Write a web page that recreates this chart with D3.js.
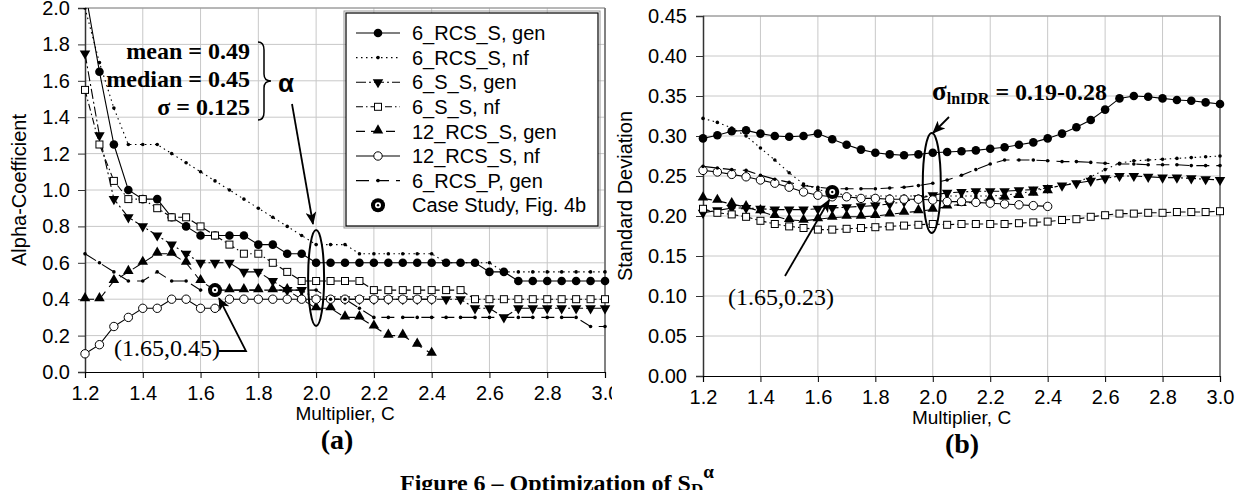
<!DOCTYPE html>
<html>
<head>
<meta charset="utf-8">
<script src="https://cdn.jsdelivr.net/npm/d3@7"></script>
<style>
body { margin: 0; background: #fff; }
svg text { font-family: "Liberation Sans", Arial, sans-serif; fill: #000; }
.serif { font-family: "Liberation Serif", "Times New Roman", serif; }
</style>
</head>
<body>
<svg id="fig" width="1247" height="490"></svg>
<script>
// multiplier C values (x)
const cVals = [1.20,1.25,1.30,1.35,1.40,1.45,1.50,1.55,1.60,1.65,1.70,1.75,1.80,1.85,1.90,1.95,
               2.00,2.05,2.10,2.15,2.20,2.25,2.30,2.35,2.40,2.45,2.50,2.55,2.60,2.65,2.70,2.75,
               2.80,2.85,2.90,2.95,3.00];
const xTicks = [1.2,1.4,1.6,1.8,2.0,2.2,2.4,2.6,2.8,3.0];
const alphaTicks = [0,0.2,0.4,0.6,0.8,1.0,1.2,1.4,1.6,1.8,2.0];
const sdTicks = [0,0.05,0.10,0.15,0.20,0.25,0.30,0.35,0.40,0.45];

const seriesNames = ["6_RCS_S, gen","6_RCS_S, nf","6_S_S, gen","6_S_S, nf","12_RCS_S, gen","12_RCS_S, nf","6_RCS_P, gen"];
const caseName = "Case Study, Fig. 4b";
const caseA = [1.65, 0.45];
const caseB = [1.65, 0.23];

// (a) alpha-coefficient
const alpha_6RCSS_gen = [2.1,1.65,1.25,1.0,0.95,0.95,0.85,0.8,0.75,0.75,0.75,0.75,0.7,0.7,0.65,0.65,
  0.6,0.6,0.6,0.6,0.6,0.6,0.6,0.6,0.6,0.6,0.6,0.6,0.55,0.55,0.5,0.5,0.5,0.5,0.5,0.5,0.5];
const alpha_6RCSS_nf = [2.0,1.7,1.45,1.25,1.25,1.25,1.2,1.15,1.1,1.05,1.0,0.95,0.9,0.85,0.8,0.75,
  0.7,0.7,0.7,0.65,0.65,0.65,0.65,0.65,0.65,0.6,0.6,0.6,0.6,0.55,0.55,0.55,0.55,0.55,0.55,0.55,0.55];
const alpha_6SS_gen = [1.75,1.3,0.95,0.85,0.8,0.75,0.7,0.65,0.6,0.6,0.6,0.55,0.55,0.5,0.45,0.45,
  0.4,0.4,0.4,0.4,0.4,0.4,0.4,0.4,0.4,0.4,0.4,0.35,0.35,0.3,0.35,0.35,0.35,0.35,0.35,0.35,0.35];
const alpha_6SS_nf = [1.55,1.25,1.05,0.95,0.95,0.9,0.85,0.85,0.8,0.75,0.7,0.65,0.65,0.6,0.55,0.5,
  0.5,0.5,0.5,0.5,0.45,0.45,0.45,0.45,0.45,0.45,0.45,0.4,0.4,0.4,0.4,0.4,0.4,0.4,0.4,0.4,0.4];
const alpha_12RCSS_gen = [0.4,0.4,0.5,0.55,0.6,0.65,0.65,0.6,0.5,0.45,0.45,0.45,0.45,0.45,0.45,0.4,
  0.35,0.35,0.3,0.3,0.25,0.2,0.2,0.15,0.1,null,null,null,null,null,null,null,null,null,null,null,null];
const alpha_12RCSS_nf = [0.1,0.15,0.25,0.3,0.35,0.35,0.4,0.4,0.35,0.35,0.4,0.4,0.4,0.4,0.4,0.4,
  0.4,0.4,0.4,0.4,0.4,0.4,0.4,0.4,0.4,null,null,null,null,null,null,null,null,null,null,null,null];
const alpha_6RCSP_gen = [0.65,0.6,0.55,0.5,0.5,0.55,0.5,0.5,0.45,0.45,0.45,0.45,0.45,0.45,0.45,0.45,
  0.45,0.4,0.4,0.35,0.3,0.3,0.3,0.3,0.3,0.3,0.3,0.3,0.3,0.3,0.3,0.3,0.3,0.3,0.3,0.25,0.25];

// (b) standard deviation
const sd_6RCSS_gen = [0.297,0.301,0.306,0.307,0.303,0.300,0.299,0.300,0.303,0.296,0.289,0.283,0.279,0.277,0.276,0.277,
  0.279,0.280,0.281,0.282,0.284,0.286,0.289,0.292,0.297,0.303,0.311,0.320,0.333,0.347,0.350,0.349,0.347,0.345,0.344,0.342,0.340];
const sd_6RCSS_nf = [0.322,0.317,0.310,0.300,0.285,0.270,0.254,0.240,0.233,0.229,0.226,0.225,0.225,0.225,0.225,0.225,
  0.225,0.225,0.225,0.225,0.225,0.226,0.228,0.231,0.235,0.238,0.242,0.249,0.258,0.266,0.269,0.270,0.271,0.272,0.273,0.274,0.275];
const sd_6SS_gen = [0.204,0.207,0.210,0.210,0.209,0.208,0.208,0.208,0.209,0.210,0.211,0.212,0.213,0.215,0.218,0.222,
  0.226,0.229,0.230,0.231,0.231,0.231,0.232,0.233,0.235,0.238,0.241,0.244,0.247,0.250,0.250,0.249,0.248,0.248,0.247,0.246,0.245];
const sd_6SS_nf = [0.209,0.204,0.202,0.199,0.194,0.190,0.187,0.185,0.183,0.183,0.184,0.185,0.186,0.187,0.188,0.189,
  0.190,0.189,0.190,0.190,0.190,0.190,0.191,0.192,0.193,0.195,0.196,0.199,0.201,0.203,0.203,0.204,0.204,0.205,0.205,0.205,0.206];
const sd_12RCSS_gen = [0.222,0.219,0.215,0.211,0.206,0.200,0.195,0.194,0.196,0.198,0.199,0.199,0.200,0.202,0.204,0.206,
  0.208,0.212,0.215,0.218,0.221,0.223,0.225,0.228,0.231,null,null,null,null,null,null,null,null,null,null,null,null];
const sd_12RCSS_nf = [0.257,0.255,0.252,0.249,0.245,0.241,0.236,0.230,0.226,0.224,0.224,0.222,0.222,0.221,0.221,0.221,
  0.220,0.218,0.218,0.217,0.216,0.215,0.214,0.213,0.212,null,null,null,null,null,null,null,null,null,null,null,null];
const sd_6RCSP_gen = [0.262,0.260,0.258,0.257,0.251,0.246,0.242,0.238,0.236,0.234,0.234,0.234,0.234,0.235,0.236,0.238,
  0.241,0.245,0.251,0.258,0.265,0.270,0.270,0.270,0.269,0.268,0.268,0.267,0.266,0.265,0.265,0.264,0.264,0.264,0.263,0.263,0.263];

const alphaSeries = [alpha_6RCSS_gen, alpha_6RCSS_nf, alpha_6SS_gen, alpha_6SS_nf, alpha_12RCSS_gen, alpha_12RCSS_nf, alpha_6RCSP_gen];
const sdSeries = [sd_6RCSS_gen, sd_6RCSS_nf, sd_6SS_gen, sd_6SS_nf, sd_12RCSS_gen, sd_12RCSS_nf, sd_6RCSP_gen];

// line / marker look of each series
const looks = [
  {dash: null,        mk: "dot"},
  {dash: "1.5,3.5",   mk: "small"},
  {dash: "10,3,2,3",  mk: "tdown"},
  {dash: "7,3,1.5,3", mk: "square"},
  {dash: "9,6",       mk: "tup"},
  {dash: null,        mk: "circle"},
  {dash: "13,7",      mk: "small"}
];

var svg = d3.select("#fig");

var defs = svg.append("defs");
defs.append("marker").attr("id", "arr")
    .attr("viewBox", "0 0 12 10").attr("refX", 11).attr("refY", 5)
    .attr("markerWidth", 13).attr("markerHeight", 11)
    .attr("markerUnits", "userSpaceOnUse").attr("orient", "auto")
    .append("path").attr("d", "M0,0 L12,5 L0,10 L3,5 Z").attr("fill", "#000");

function drawMarker(g, type, x, y) {
    if (type == "dot") {
        g.append("circle").attr("cx", x).attr("cy", y).attr("r", 4.3).attr("fill", "#000");
    } else if (type == "small") {
        g.append("circle").attr("cx", x).attr("cy", y).attr("r", 1.8).attr("fill", "#000");
    } else if (type == "tdown") {
        g.append("path").attr("d", d3.symbol(d3.symbolTriangle, 48)())
            .attr("transform", "translate(" + x + "," + y + ") rotate(180)").attr("fill", "#000");
    } else if (type == "tup") {
        g.append("path").attr("d", d3.symbol(d3.symbolTriangle, 48)())
            .attr("transform", "translate(" + x + "," + (y - 1) + ")").attr("fill", "#000");
    } else if (type == "square") {
        g.append("rect").attr("x", x - 3.5).attr("y", y - 3.5).attr("width", 7).attr("height", 7)
            .attr("fill", "#fff").attr("stroke", "#000").attr("stroke-width", 1);
    } else if (type == "circle") {
        g.append("circle").attr("cx", x).attr("cy", y).attr("r", 4.2)
            .attr("fill", "#fff").attr("stroke", "#000").attr("stroke-width", 1);
    }
}

function drawCase(g, x, y) {
    g.append("circle").attr("cx", x).attr("cy", y).attr("r", 7).attr("fill", "#000");
    g.append("circle").attr("cx", x).attr("cy", y).attr("r", 3).attr("fill", "#fff");
    g.append("circle").attr("cx", x).attr("cy", y).attr("r", 1.2).attr("fill", "#000");
}

function drawPanel(opt) {
    var g = svg.append("g");
    if (opt.clipId) {
        defs.append("clipPath").attr("id", opt.clipId).append("rect")
            .attr("x", 0).attr("y", 0).attr("width", opt.clipW).attr("height", 490);
        g.attr("clip-path", "url(#" + opt.clipId + ")");
    }
    var x = d3.scaleLinear().domain([1.2, 3.0]).range(opt.xr);
    var y = d3.scaleLinear().domain(opt.yd).range(opt.yr);

    // grid
    g.append("g").selectAll("line").data(opt.yTicks.slice(1)).join("line")
        .attr("x1", opt.xr[0]).attr("x2", opt.xr[1])
        .attr("y1", d => y(d)).attr("y2", d => y(d))
        .attr("stroke", "#c8c8c8").attr("stroke-width", 1);
    g.append("g").selectAll("line").data(xTicks.slice(1)).join("line")
        .attr("x1", d => x(d)).attr("x2", d => x(d))
        .attr("y1", opt.yr[0]).attr("y2", opt.yr[1])
        .attr("stroke", "#c8c8c8").attr("stroke-width", 1);
    // frame top / right
    g.append("line").attr("x1", opt.xr[0]).attr("x2", opt.xr[1]).attr("y1", opt.yr[1]).attr("y2", opt.yr[1])
        .attr("stroke", "#8a8a8a").attr("stroke-width", 1.2);
    g.append("line").attr("x1", opt.xr[1]).attr("x2", opt.xr[1]).attr("y1", opt.yr[1]).attr("y2", opt.yr[0])
        .attr("stroke", "#777").attr("stroke-width", 1.8);

    // axes
    var ya = g.append("g").attr("transform", "translate(" + opt.xr[0] + ",0)")
        .call(d3.axisLeft(y).tickValues(opt.yTicks).tickFormat(d3.format(opt.fmt)).tickSize(7).tickPadding(opt.yPad));
    ya.select(".domain").attr("stroke", "#333").attr("stroke-width", 1.5);
    ya.selectAll(".tick line").attr("stroke", "#333");
    ya.selectAll("text").style("font-size", "20px");

    var xa = g.append("g").attr("transform", "translate(0," + opt.yr[0] + ")")
        .call(d3.axisBottom(x).tickValues(xTicks).tickFormat(d3.format(".1f")).tickSize(6).tickPadding(8));
    xa.select(".domain").attr("stroke", "#000").attr("stroke-width", 1.2);
    xa.selectAll("text").style("font-size", "20px");

    // series
    var plot = g.append("g");
    if (opt.plotClip) {
        defs.append("clipPath").attr("id", opt.plotClip).append("rect")
            .attr("x", opt.xr[0] - 8).attr("y", opt.yr[1]).attr("width", opt.xr[1] - opt.xr[0] + 16)
            .attr("height", opt.yr[0] - opt.yr[1] + 8);
        plot.attr("clip-path", "url(#" + opt.plotClip + ")");
    }
    opt.series.forEach(function (vals, si) {
        var pts = cVals.map((c, i) => ({c: c, v: vals[i]}));
        var line = d3.line().defined(d => d.v != null).x(d => x(d.c)).y(d => y(d.v));
        plot.append("path").attr("d", line(pts)).attr("fill", "none")
            .attr("stroke", "#000").attr("stroke-width", 1.1)
            .attr("stroke-dasharray", looks[si].dash);
    });
    opt.series.forEach(function (vals, si) {
        var mg = plot.append("g");
        cVals.forEach(function (c, i) {
            if (vals[i] != null) drawMarker(mg, looks[si].mk, x(c), y(vals[i]));
        });
    });
    drawCase(plot, x(opt.casePt[0]), y(opt.casePt[1]));

    // axis titles
    g.append("text").attr("transform", "translate(" + opt.yTitleX + "," + (opt.yr[0] + opt.yr[1]) / 2 + ") rotate(-90)")
        .attr("text-anchor", "middle").attr("dy", "0.35em").style("font-size", "20px").text(opt.yTitle);
    g.append("text").attr("x", (opt.xr[0] + opt.xr[1]) / 2).attr("y", opt.xTitleY)
        .attr("text-anchor", "middle").style("font-size", "19px").text("Multiplier, C");
    return {x: x, y: y, g: g};
}

var A = drawPanel({
    xr: [85, 605], yd: [0, 2], yr: [372, 8], yTicks: alphaTicks, fmt: ".1f", yPad: 8,
    series: alphaSeries, casePt: caseA, yTitle: "Alpha-Coefficient", yTitleX: 19, xTitleY: 420,
    clipId: "clipA", clipW: 612, plotClip: "plotA"
});
var B = drawPanel({
    xr: [703, 1220], yd: [0, 0.45], yr: [376, 16], yTicks: sdTicks, fmt: ".2f", yPad: 9,
    series: sdSeries, casePt: caseB, yTitle: "Standard Deviation", yTitleX: 625, xTitleY: 424
});

// legend
var lg = svg.append("g");
lg.append("rect").attr("x", 346).attr("y", 13).attr("width", 252).attr("height", 213)
    .attr("fill", "#fff").attr("stroke", "#000").attr("stroke-width", 1.2);
lg.append("rect").attr("x", 344).attr("y", 11).attr("width", 256).attr("height", 217)
    .attr("fill", "none").attr("stroke", "#999").attr("stroke-width", 1);
seriesNames.forEach(function (name, i) {
    var yy = 33 + i * 24.6;
    lg.append("line").attr("x1", 356).attr("x2", 400).attr("y1", yy).attr("y2", yy)
        .attr("stroke", "#000").attr("stroke-width", 1.1).attr("stroke-dasharray", looks[i].dash);
    drawMarker(lg, looks[i].mk, 378, yy);
    lg.append("text").attr("x", 412).attr("y", yy).attr("dy", "0.36em").style("font-size", "20px").text(name);
});
drawCase(lg, 378, 33 + 7 * 24.6);
lg.append("text").attr("x", 412).attr("y", 33 + 7 * 24.6).attr("dy", "0.36em").style("font-size", "20px").text(caseName);

// annotations (a)
var an = svg.append("g");
var statLines = ["mean = 0.49", "median = 0.45", "\u03c3 = 0.125"];
statLines.forEach(function (t, i) {
    an.append("text").attr("class", "serif").attr("x", 250).attr("y", 59 + i * 28)
        .attr("text-anchor", "end").style("font-size", "24px").style("font-weight", "bold").text(t);
});
an.append("path").attr("d", "M258,42 Q264,42 264,50 L264,74 Q264,81 271,81 Q264,81 264,88 L264,112 Q264,120 258,120")
    .attr("fill", "none").attr("stroke", "#000").attr("stroke-width", 1.5);
an.append("text").attr("x", 278).attr("y", 92).style("font-size", "26px").style("font-weight", "bold").text("\u03b1");
an.append("line").attr("x1", 292).attr("y1", 104).attr("x2", 313).attr("y2", 224)
    .attr("stroke", "#000").attr("stroke-width", 1.8).attr("marker-end", "url(#arr)");
an.append("ellipse").attr("cx", A.x(2.0)).attr("cy", 278).attr("rx", 8).attr("ry", 48)
    .attr("fill", "none").attr("stroke", "#000").attr("stroke-width", 2);
an.append("text").attr("class", "serif").attr("x", 114).attr("y", 356).style("font-size", "24px").text("(1.65,0.45)");
an.append("polyline").attr("points", "219,351 246,351 " + (A.x(caseA[0]) + 4) + "," + (A.y(caseA[1]) + 8))
    .attr("fill", "none").attr("stroke", "#000").attr("stroke-width", 1.8).attr("marker-end", "url(#arr)");

// annotations (b)
an.append("text").attr("class", "serif").attr("x", 728).attr("y", 305).style("font-size", "24px").text("(1.65,0.23)");
an.append("line").attr("x1", 785).attr("y1", 276).attr("x2", B.x(caseB[0]) - 3).attr("y2", B.y(caseB[1]) + 8)
    .attr("stroke", "#000").attr("stroke-width", 1.8).attr("marker-end", "url(#arr)");
var sig = an.append("text").attr("class", "serif").attr("x", 932).attr("y", 100).style("font-weight", "bold");
sig.append("tspan").style("font-size", "27px").text("\u03c3");
sig.append("tspan").style("font-size", "16px").attr("dy", 4).text("lnIDR");
sig.append("tspan").style("font-size", "24px").attr("dy", -4).text(" = 0.19-0.28");
an.append("line").attr("x1", 949).attr("y1", 117).attr("x2", 933).attr("y2", 133)
    .attr("stroke", "#000").attr("stroke-width", 1.8).attr("marker-end", "url(#arr)");
an.append("ellipse").attr("cx", B.x(2.0) - 1).attr("cy", 183).attr("rx", 9).attr("ry", 50)
    .attr("fill", "none").attr("stroke", "#000").attr("stroke-width", 2);

// panel labels and caption
svg.append("text").attr("class", "serif").attr("x", 337).attr("y", 449).attr("text-anchor", "middle")
    .style("font-size", "28px").style("font-weight", "bold").text("(a)");
svg.append("text").attr("class", "serif").attr("x", 962).attr("y", 453).attr("text-anchor", "middle")
    .style("font-size", "28px").style("font-weight", "bold").text("(b)");
var cap = svg.append("text").attr("class", "serif").attr("x", 400).attr("y", 491)
    .style("font-size", "24px").style("font-weight", "bold");
cap.append("tspan").text("Figure 6 \u2013 Optimization of S");
cap.append("tspan").style("font-size", "17px").attr("dy", 4).text("D");
cap.append("tspan").style("font-size", "19px").attr("dy", -17).text("\u03b1");
</script>
</body>
</html>
